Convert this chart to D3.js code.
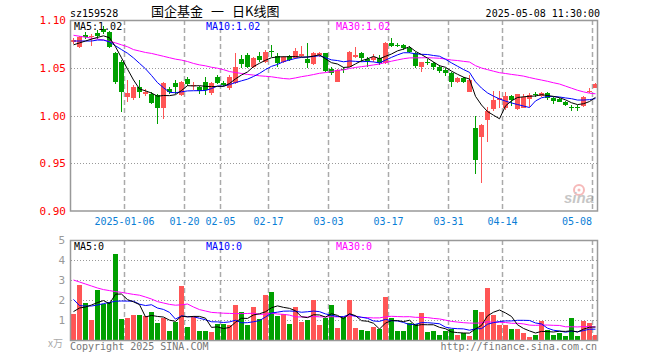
<!DOCTYPE html>
<meta charset="utf-8">
<style>
body { margin: 0; background: #fff; }
svg { font-family: "DejaVu Sans Mono", monospace; font-size: 10px; }
</style>
<svg width="660" height="360"></svg>
<script src="https://d3js.org/d3.v7.min.js"></script>
<script>
// trading days shown on the chart
var dates = [
  "2024-12-23","2024-12-24","2024-12-25","2024-12-26","2024-12-27","2024-12-30","2024-12-31",
  "2025-01-02","2025-01-03","2025-01-06","2025-01-07","2025-01-08","2025-01-09","2025-01-10",
  "2025-01-13","2025-01-14","2025-01-15","2025-01-16","2025-01-17","2025-01-20","2025-01-21",
  "2025-01-22","2025-01-23","2025-01-24","2025-01-27","2025-02-05","2025-02-06","2025-02-07",
  "2025-02-10","2025-02-11","2025-02-12","2025-02-13","2025-02-14","2025-02-17","2025-02-18",
  "2025-02-19","2025-02-20","2025-02-21","2025-02-24","2025-02-25","2025-02-26","2025-02-27",
  "2025-02-28","2025-03-03","2025-03-04","2025-03-05","2025-03-06","2025-03-07","2025-03-10",
  "2025-03-11","2025-03-12","2025-03-13","2025-03-14","2025-03-17","2025-03-18","2025-03-19",
  "2025-03-20","2025-03-21","2025-03-24","2025-03-25","2025-03-26","2025-03-27","2025-03-28",
  "2025-03-31","2025-04-01","2025-04-02","2025-04-03","2025-04-07","2025-04-08","2025-04-09",
  "2025-04-10","2025-04-11","2025-04-14","2025-04-15","2025-04-16","2025-04-17","2025-04-18",
  "2025-04-21","2025-04-22","2025-04-23","2025-04-24","2025-04-25","2025-04-28","2025-04-29",
  "2025-04-30","2025-05-06","2025-05-07","2025-05-08"];

var opens = [1.077,1.072,1.084,1.082,1.086,1.091,1.087,1.065,1.056,1.019,1.018,1.030,1.022,1.023,
  1.0215,1.0075,1.0278,1.0337,1.0215,1.0379,1.031,1.030,1.0354,1.0232,1.040,1.0344,1.0285,1.0337,
  1.0588,1.0634,1.0511,1.0623,1.0564,1.0678,1.0623,1.0564,1.0623,1.0599,1.0623,1.0588,1.0539,1.0634,
  1.0651,1.049,1.0355,1.049,1.0511,1.0609,1.0651,1.0588,1.0581,1.0606,1.0546,1.0756,1.0742,1.0738,
  1.071,1.0651,1.0504,1.0564,1.0553,1.0511,1.0476,1.0441,1.0354,1.0396,1.025,0.9866,0.9778,0.9953,
  1.0068,1.0162,1.0082,1.0208,1.0068,1.0082,1.0172,1.0225,1.0208,1.0232,1.0186,1.0172,1.0145,1.0084,
  1.0084,1.0103,1.0258,1.0291];
var highs = [1.081,1.083,1.087,1.085,1.090,1.094,1.088,1.066,1.058,1.037,1.032,1.037,1.028,1.025,
  1.023,1.0355,1.030,1.037,1.0365,1.0407,1.0354,1.031,1.0407,1.0354,1.0424,1.0361,1.0424,1.0651,
  1.0634,1.0651,1.0616,1.0669,1.0686,1.0738,1.0651,1.0623,1.0634,1.0703,1.0728,1.0756,1.0669,1.0669,
  1.0658,1.051,1.0483,1.051,1.0679,1.0721,1.0668,1.0616,1.0644,1.0634,1.0773,1.0808,1.0756,1.0749,
  1.0728,1.0661,1.0564,1.0588,1.0564,1.0529,1.0494,1.0459,1.0407,1.0407,1.0424,0.9998,0.9907,1.0092,
  1.0257,1.0257,1.025,1.0215,1.0225,1.0225,1.0232,1.0243,1.025,1.025,1.0197,1.018,1.0152,1.011,
  1.011,1.0208,1.0284,1.0337];
var lows = [1.075,1.071,1.080,1.073,1.080,1.085,1.071,1.033,1.004,1.0145,1.016,1.018,1.020,1.012,
  0.991,0.996,1.023,1.0225,1.0204,1.0313,1.0267,1.0225,1.0215,1.0215,1.033,1.031,1.0267,1.033,
  1.0494,1.0494,1.0494,1.0564,1.0546,1.0616,1.0511,1.0546,1.0574,1.0588,1.0609,1.0494,1.0529,1.0616,
  1.0459,1.042,1.0347,1.045,1.0504,1.0599,1.0564,1.0511,1.0564,1.0529,1.0536,1.0721,1.0721,1.0686,
  1.0651,1.0494,1.0459,1.0529,1.0476,1.0441,1.0414,1.0302,1.0344,1.0337,1.0242,0.9384,0.929,0.9726,
  1.0047,1.0075,1.0057,1.0103,1.0057,1.0075,1.0092,1.0197,1.0197,1.0162,1.0117,1.014,1.0103,1.0047,
  1.0047,1.0092,1.0232,1.0284];
var closes = [1.079,1.082,1.082,1.083,1.083,1.087,1.072,1.035,1.025,1.024,1.030,1.025,1.025,1.0135,
  1.0075,1.0337,1.0243,1.030,1.0354,1.033,1.032,1.0257,1.0267,1.0337,1.0344,1.032,1.0407,1.0511,
  1.0539,1.0504,1.0599,1.0581,1.0669,1.0672,1.0546,1.0609,1.0581,1.0679,1.0644,1.0546,1.0658,1.0651,
  1.047,1.044,1.0476,1.048,1.0668,1.0637,1.0606,1.0574,1.0609,1.0546,1.0763,1.0728,1.0738,1.0703,
  1.0668,1.0522,1.0557,1.0553,1.0504,1.047,1.0441,1.0354,1.0389,1.0354,1.0372,0.9534,0.990,1.0047,
  1.0162,1.0186,1.0208,1.0162,1.0225,1.0197,1.0215,1.0222,1.0232,1.018,1.0152,1.0145,1.011,1.0082,
  1.0082,1.0197,1.026,1.033];
// volume, in 万 lots
var volumes = [1.28,2.73,1.87,1.0,2.48,1.78,1.92,4.28,1.03,1.08,1.23,1.23,1.2,1.4,0.83,1.08,0.45,0.9,
  2.7,0.65,1.2,0.45,0.45,0.4,0.78,0.78,0.73,1.75,1.4,0.73,1.65,1.03,2.25,2.4,1.2,1.28,0.78,1.65,
  0.9,0.98,2.0,0.73,1.12,1.73,0.58,1.17,1.98,0.62,0.48,0.43,0.67,0.53,2.13,1.08,0.43,0.43,0.87,
  0.78,1.33,0.4,0.43,0.23,0.43,0.53,0.23,0.33,0.2,1.48,1.42,2.6,1.25,0.75,0.75,0.53,0.53,0.33,
  0.13,0.23,0.93,0.48,0.23,0.33,0.18,1.08,0.18,0.93,0.83,0.23];

// moving-average values at the left edge (earlier days are off the chart)
var ma5Head = [1.074,1.076,1.078,1.080];
var ma10Head = [1.078,1.078,1.078,1.078,1.079,1.079,1.077,1.073,1.069];
var ma30Head = [1.084,1.083,1.082,1.081,1.080,1.079,1.0775,1.076,1.074,1.072,1.069,1.0675,1.066,
  1.065,1.0635,1.062,1.0605,1.059,1.058,1.0565,1.0545,1.053,1.052,1.0505,1.0495,1.048,1.046,1.045,1.044];
var vma5Head = [1.42,1.6,1.65,1.75];
var vma10Head = [2.03,1.72,1.7,1.7,1.75,1.82,1.88,1.94,1.95];
var vma30Head = [3.0,2.9,2.8,2.7,2.6,2.52,2.47,2.42,2.38,2.33,2.28,2.24,2.15,2.05,1.92,1.85,1.78,
  1.74,1.76,1.8,1.65,1.52,1.45,1.38,1.36,1.34,1.33,1.32,1.32];

var tickDates = ["2025-01-06","2025-01-20","2025-02-05","2025-02-17","2025-03-03","2025-03-17",
  "2025-03-31","2025-04-14","2025-05-08"];
var tickLabels = ["2025-01-06","01-20","02-05","02-17","03-03","03-17","03-31","04-14","05-08"];
var priceTicks = [1.10,1.05,1.00,0.95,0.90];
var volTicks = [5,4,3,2,1];
var maLabels = ["MA5:1.02","MA10:1.02","MA30:1.02"];
var vmaLabels = ["MA5:0","MA10:0","MA30:0"];

var RED = "#ff5555", GREEN = "#00a000";
var maColors = ["#000000","#0000ff","#ff00ff"];

var svg = d3.select("svg");

var x = d3.scaleBand().domain(dates).range([71, 598]).paddingInner(1 / 6).paddingOuter(0).align(0);
var y = d3.scaleLinear().domain([0.90, 1.10]).range([211, 20]);
var yv = d3.scaleLinear().domain([0, 5]).range([340, 240]);
var bw = x.bandwidth();

function movingAvg(vals, n, head) {
  return vals.map(function(v, i) {
    return i < n - 1 ? head[i] : d3.mean(vals.slice(i - n + 1, i + 1));
  });
}

//header
svg.append("text").attr("x", 70).attr("y", 17).text("sz159528");
var title = svg.append("text").attr("y", 16)
    .style("font-family", "'Noto Sans CJK SC', sans-serif").style("font-size", "13px");
title.append("tspan").attr("x", 151).text("国企基金");
title.append("tspan").attr("x", 211).text("一");
title.append("tspan").attr("x", 232).text("日K线图");
svg.append("text").attr("x", 600).attr("y", 17).attr("text-anchor", "end").text("2025-05-08 11:30:00");

//grid lines
var grid = svg.append("g").attr("fill", "none");
grid.selectAll("line.h").data([1.05, 1.00, 0.95]).enter().append("line")
    .attr("x1", 71).attr("x2", 597)
    .attr("y1", function(d) { return Math.round(y(d)) + 0.5; })
    .attr("y2", function(d) { return Math.round(y(d)) + 0.5; })
    .attr("stroke", "#999").attr("stroke-dasharray", "1,2");
grid.selectAll("line.hv").data([1, 2, 3, 4]).enter().append("line")
    .attr("x1", 71).attr("x2", 597)
    .attr("y1", function(d) { return yv(d) + 0.5; })
    .attr("y2", function(d) { return yv(d) + 0.5; })
    .attr("stroke", "#999").attr("stroke-dasharray", "1,2");
tickDates.forEach(function(d) {
  var gx = x(d) - 0.5;
  [[20, 211], [240, 340]].forEach(function(r) {
    grid.append("line").attr("x1", gx).attr("x2", gx).attr("y1", r[0]).attr("y2", r[1])
        .attr("stroke", "#aaa").attr("stroke-width", 1.5).attr("stroke-dasharray", "5,3");
  });
});

//watermark
var wm = svg.append("g").attr("opacity", 0.55);
wm.append("circle").attr("cx", 579).attr("cy", 190).attr("r", 5).attr("fill", "none")
    .attr("stroke", "#f08080").attr("stroke-width", 2);
wm.append("circle").attr("cx", 579).attr("cy", 190).attr("r", 1.5).attr("fill", "#f08080");
wm.append("text").attr("x", 564).attr("y", 203)
    .style("font", "italic bold 15px 'Liberation Sans', Arial, sans-serif")
    .attr("fill", "#999").text("sina");

var data = dates.map(function(d, i) {
  return { date: d, o: opens[i], h: highs[i], l: lows[i], c: closes[i], v: volumes[i] };
});
function col(d) { return d.c >= d.o ? RED : GREEN; }

//candles
var candle = svg.append("g").selectAll("g").data(data).enter().append("g")
    .attr("fill", col);
candle.append("rect")
    .attr("x", function(d) { return x(d.date) + 2; })
    .attr("width", 1)
    .attr("y", function(d) { return Math.round(y(d.h)); })
    .attr("height", function(d) { return Math.max(1, Math.round(y(d.l)) - Math.round(y(d.h))); });
candle.append("rect")
    .attr("x", function(d) { return x(d.date); })
    .attr("width", bw)
    .attr("y", function(d) { return Math.round(y(Math.max(d.o, d.c))); })
    .attr("height", function(d) {
      return Math.max(1, Math.round(y(Math.min(d.o, d.c))) - Math.round(y(Math.max(d.o, d.c))));
    });

//volume bars
svg.append("g").selectAll("rect").data(data).enter().append("rect")
    .attr("x", function(d) { return x(d.date); })
    .attr("width", bw)
    .attr("y", function(d) { return Math.round(yv(d.v)); })
    .attr("height", function(d) { return 340 - Math.round(yv(d.v)); })
    .attr("fill", col);

//moving averages
var priceMA = [movingAvg(closes, 5, ma5Head), movingAvg(closes, 10, ma10Head), movingAvg(closes, 30, ma30Head)];
var volMA = [movingAvg(volumes, 5, vma5Head), movingAvg(volumes, 10, vma10Head), movingAvg(volumes, 30, vma30Head)];
var cx = function(d, i) { return x(dates[i]) + bw / 2; };
[2, 1, 0].forEach(function(k) {
  svg.append("path").datum(priceMA[k])
      .attr("d", d3.line().x(cx).y(function(d) { return y(d); }))
      .attr("fill", "none").attr("stroke", maColors[k]).attr("stroke-width", 1);
  svg.append("path").datum(volMA[k])
      .attr("d", d3.line().x(cx).y(function(d) { return yv(d); }))
      .attr("fill", "none").attr("stroke", maColors[k]).attr("stroke-width", 1);
});

//frames
svg.append("rect").attr("x", 70.5).attr("y", 20.5).attr("width", 527).attr("height", 190.5)
    .attr("fill", "none").attr("stroke", "#999").attr("stroke-width", 1.5);
svg.append("rect").attr("x", 70.5).attr("y", 240.5).attr("width", 527).attr("height", 100)
    .attr("fill", "none").attr("stroke", "#999").attr("stroke-width", 1.5);

//axis labels
svg.selectAll("text.py").data(priceTicks).enter().append("text")
    .attr("x", 66).attr("y", function(d) { return y(d) + 4; })
    .attr("text-anchor", "end").attr("fill", "#ff0000").style("font-size", "11px")
    .text(d3.format(".2f"));
svg.selectAll("text.vy").data(volTicks).enter().append("text")
    .attr("x", 65).attr("y", function(d) { return yv(d) + 4; })
    .attr("text-anchor", "end").attr("fill", "#999").style("font-size", "11px")
    .text(function(d) { return d; });
svg.append("text").attr("x", 48).attr("y", 347).attr("fill", "#aaa")
    .style("font-family", "'Noto Sans CJK SC', sans-serif").style("font-size", "10px").text("x万");
svg.selectAll("text.dx").data(tickDates).enter().append("text")
    .attr("x", function(d, i) { return i === tickDates.length - 1 ? x(d) - 1 : x(d) - 0.5; })
    .attr("y", 225)
    .attr("text-anchor", function(d, i) { return i === tickDates.length - 1 ? "end" : "middle"; })
    .attr("fill", "#0a7ed6")
    .text(function(d, i) { return tickLabels[i]; });

//MA legends
var legX = [74, 206, 336];
maLabels.forEach(function(t, k) {
  svg.append("text").attr("x", legX[k]).attr("y", 30).attr("fill", maColors[k]).text(t);
});
vmaLabels.forEach(function(t, k) {
  svg.append("text").attr("x", legX[k]).attr("y", 250).attr("fill", maColors[k]).text(t);
});

//footer
svg.append("text").attr("x", 70).attr("y", 350).attr("fill", "#777").text("Copyright 2025 SINA.COM");
svg.append("text").attr("x", 597).attr("y", 350).attr("text-anchor", "end").attr("fill", "#777")
    .text("http://finance.sina.com.cn");
</script>
